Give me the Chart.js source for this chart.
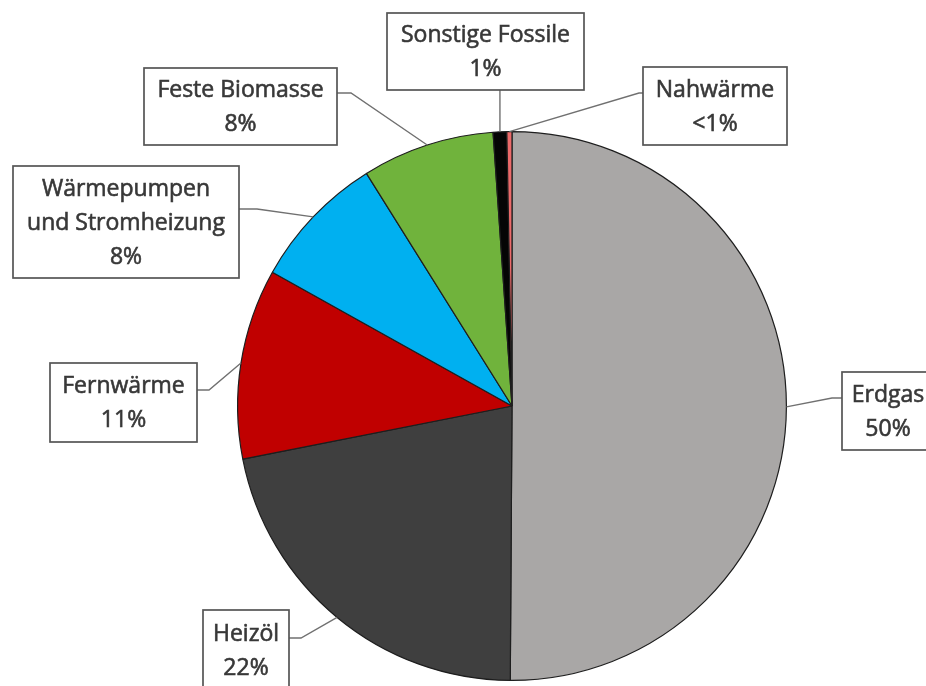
<!DOCTYPE html>
<html lang="de">
<head>
<meta charset="utf-8">
<title>Beheizungsstruktur</title>
<script src="https://cdn.jsdelivr.net/npm/chart.js@4.4.1/dist/chart.umd.min.js"></script>
<style>
  html, body { margin: 0; padding: 0; background: #fff; }
  #wrap { width: 926px; height: 686px; overflow: hidden; }
</style>
</head>
<body>
<div id="wrap"><canvas id="pie" width="926" height="686"></canvas></div>
<script>
// Anteile der Energieträger in Prozent, im Uhrzeigersinn ab 12 Uhr
const categories = ['Erdgas', 'Heizöl', 'Fernwärme', 'Wärmepumpen\nund Stromheizung', 'Feste Biomasse', 'Sonstige Fossile', 'Nahwärme'];
const shares = [50.1, 21.8, 11.2, 8.0, 7.8, 0.8, 0.3];
const sliceColors = ['#a9a7a6', '#3f3f3f', '#c00000', '#00b0f0', '#70b33c', '#050505', '#ec6a6a'];

// Beschriftungskästen (gleiche Reihenfolge wie categories)
// side = Kante, an der die Führungslinie ansetzt; ay = Höhe des Ansatzes
const boxes = [
    { x: 842, y: 372, w: 92, h: 78, side: 'left', ay: 398, elbow: 10 },
    { x: 203, y: 610, w: 86, h: 80, side: 'right', ay: 638, elbow: 12 },
    { x: 50, y: 363, w: 147, h: 79, side: 'right', ay: 390, elbow: 12 },
    { x: 13, y: 166, w: 226, h: 112, side: 'right', ay: 209, elbow: 18 },
    { x: 144, y: 68, w: 193, h: 77, side: 'right', ay: 93, elbow: 14 },
    { x: 387, y: 13, w: 197, h: 77, side: 'bottom' },
    { x: 643, y: 67, w: 144, h: 78, side: 'left', ay: 93, elbow: 4 }
];

function shareText(v) {
    return v < 0.5 ? '<1%' : Math.round(v) + '%';
}

// ── Kästen mit Führungslinien ─────────────────────────
const calloutPlugin = {
    id: 'callouts',
    afterDraw(chart) {
        const ctx = chart.ctx;
        const arcs = chart.getDatasetMeta(0).data;
        ctx.save();
        arcs.forEach((arc, i) => {
            const b = boxes[i];
            const p = arc.getProps(['x', 'y', 'startAngle', 'endAngle', 'outerRadius'], true);
            const mid = (p.startAngle + p.endAngle) / 2;
            const px = p.x + Math.cos(mid) * p.outerRadius;
            const py = p.y + Math.sin(mid) * p.outerRadius;

            // Führungslinie
            ctx.strokeStyle = '#707070';
            ctx.lineWidth = 1.4;
            ctx.beginPath();
            if (b.side === 'bottom') {
                ctx.moveTo(px, b.y + b.h);
                ctx.lineTo(px, py);
            } else {
                const ax = b.side === 'left' ? b.x : b.x + b.w;
                const ex = b.side === 'left' ? ax - b.elbow : ax + b.elbow;
                ctx.moveTo(ax, b.ay);
                ctx.lineTo(ex, b.ay);
                ctx.lineTo(px, py);
            }
            ctx.stroke();

            // Kasten
            ctx.fillStyle = '#ffffff';
            ctx.fillRect(b.x, b.y, b.w, b.h);
            ctx.strokeStyle = '#555555';
            ctx.lineWidth = 1.7;
            ctx.strokeRect(b.x, b.y, b.w, b.h);

            // Text (leicht nachgezogen, damit er kräftiger wirkt)
            const lines = categories[i].split('\n').concat(shareText(shares[i]));
            const lh = 34;
            const cx = b.x + b.w / 2;
            const cy = b.y + b.h / 2 + 1;
            ctx.fillStyle = '#383838';
            ctx.strokeStyle = '#383838';
            ctx.lineWidth = 0.6;
            ctx.font = '23px "Open Sans", sans-serif';
            ctx.textAlign = 'center';
            ctx.textBaseline = 'middle';
            lines.forEach((t, k) => {
                const ty = cy + (k - (lines.length - 1) / 2) * lh;
                ctx.fillText(t, cx, ty);
                ctx.strokeText(t, cx, ty);
            });
        });
        ctx.restore();
    }
};

new Chart(document.getElementById('pie'), {
    type: 'pie',
    data: {
        labels: categories,
        datasets: [{
            data: shares,
            backgroundColor: sliceColors,
            borderColor: '#1e1e1e',
            borderWidth: 1.2
        }]
    },
    options: {
        responsive: false,
        animation: false,
        layout: { padding: { left: 237, right: 139, top: 131, bottom: 5 } },
        plugins: {
            legend: { display: false },
            tooltip: { enabled: false }
        }
    },
    plugins: [calloutPlugin]
});
</script>
</body>
</html>
